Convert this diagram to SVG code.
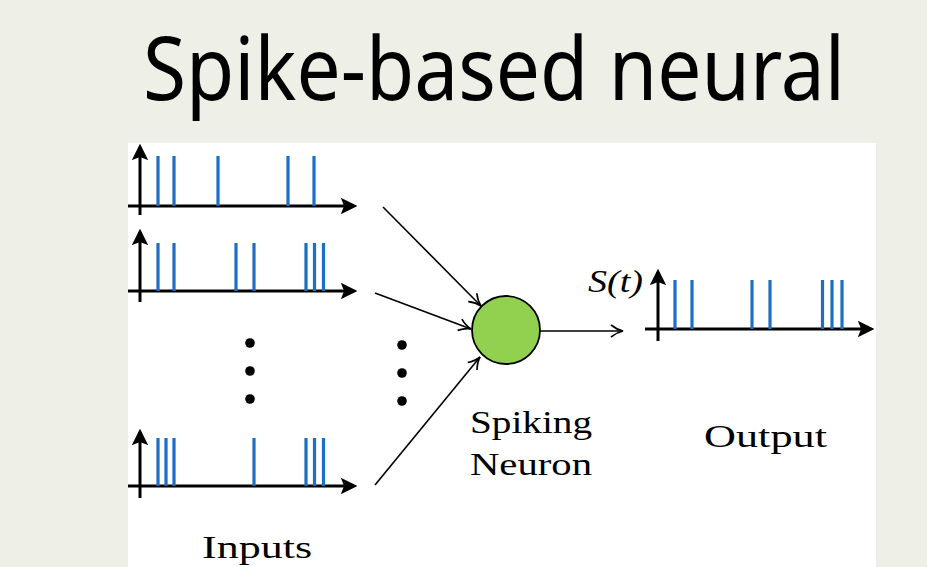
<svg xmlns="http://www.w3.org/2000/svg" width="927" height="567" viewBox="0 0 927 567">
<style>
.axis{stroke:#000;stroke-width:3;fill:none}
.spk{stroke:#1a6fc7;stroke-width:3.2}
.conn{stroke:#000;stroke-width:1.6;fill:none}
.lbl{font-family:"Liberation Serif","DejaVu Serif",serif;font-size:31px;fill:#000}
</style>
<defs>
<marker id="ah" viewBox="0 0 10 10" refX="8" refY="5" markerWidth="5.5" markerHeight="5.5" orient="auto" markerUnits="strokeWidth">
<path d="M0,0 L10,5 L0,10 L2,5 Z" fill="#000"/>
</marker>
<marker id="oa" viewBox="0 0 12 12" refX="11" refY="6" markerWidth="9" markerHeight="9" orient="auto" markerUnits="strokeWidth">
<path d="M1,1 Q6,5 11,6 Q6,7 1,11" fill="none" stroke="#000" stroke-width="1.4"/>
</marker>
</defs>
<rect width="927" height="567" fill="#eef0e8"/>
<rect x="128" y="143" width="748" height="424" fill="#fff"/>
<text x="143" y="100" font-family="'Noto Sans','Open Sans',sans-serif" font-size="88" textLength="702" lengthAdjust="spacingAndGlyphs" fill="#000">Spike-based neural</text>

<g id="input1">
<line class="axis" x1="140" y1="215" x2="140" y2="147" marker-end="url(#ah)"/>
<line class="axis" x1="128" y1="206" x2="354" y2="206" marker-end="url(#ah)"/>
<g class="spk"><line x1="158" y1="156" x2="158" y2="206"/><line x1="174" y1="156" x2="174" y2="206"/><line x1="218" y1="156" x2="218" y2="206"/><line x1="288" y1="156" x2="288" y2="206"/><line x1="314" y1="156" x2="314" y2="206"/></g>
</g>
<g id="input2">
<line class="axis" x1="140" y1="302" x2="140" y2="232" marker-end="url(#ah)"/>
<line class="axis" x1="128" y1="291" x2="354" y2="291" marker-end="url(#ah)"/>
<g class="spk"><line x1="158" y1="243" x2="158" y2="291"/><line x1="174" y1="243" x2="174" y2="291"/><line x1="236" y1="243" x2="236" y2="291"/><line x1="254" y1="243" x2="254" y2="291"/><line x1="306" y1="243" x2="306" y2="291"/><line x1="314.5" y1="243" x2="314.5" y2="291"/><line x1="323.5" y1="243" x2="323.5" y2="291"/></g>
</g>
<g id="dots-left" fill="#000"><circle cx="250" cy="343" r="4.8"/><circle cx="250" cy="371" r="4.8"/><circle cx="250" cy="399" r="4.8"/></g>
<g id="input3">
<line class="axis" x1="140" y1="498" x2="140" y2="432" marker-end="url(#ah)"/>
<line class="axis" x1="128" y1="486" x2="354" y2="486" marker-end="url(#ah)"/>
<g class="spk"><line x1="158" y1="438" x2="158" y2="486"/><line x1="166" y1="438" x2="166" y2="486"/><line x1="174" y1="438" x2="174" y2="486"/><line x1="254" y1="438" x2="254" y2="486"/><line x1="306" y1="438" x2="306" y2="486"/><line x1="314.5" y1="438" x2="314.5" y2="486"/><line x1="323.5" y1="438" x2="323.5" y2="486"/></g>
</g>
<text class="lbl" x="202" y="558" textLength="110" lengthAdjust="spacingAndGlyphs">Inputs</text>

<g id="connectors">
<line class="conn" x1="383" y1="207" x2="481" y2="306" marker-end="url(#oa)"/>
<line class="conn" x1="375" y1="293" x2="471" y2="329" marker-end="url(#oa)"/>
<line class="conn" x1="375" y1="485" x2="480" y2="357" marker-end="url(#oa)"/>
<line class="conn" x1="540" y1="331" x2="623" y2="331" marker-end="url(#oa)"/>
</g>
<g id="dots-right" fill="#000"><circle cx="402" cy="345" r="4.8"/><circle cx="402" cy="373" r="4.8"/><circle cx="402" cy="401" r="4.8"/></g>
<g id="neuron">
<circle cx="506" cy="330" r="34" fill="#92d050" stroke="#000" stroke-width="1.8"/>
<text class="lbl" x="470" y="433" textLength="122" lengthAdjust="spacingAndGlyphs">Spiking</text>
<text class="lbl" x="470" y="475" textLength="122" lengthAdjust="spacingAndGlyphs">Neuron</text>
</g>
<g id="output">
<text class="lbl" x="588" y="292" font-style="italic" font-size="30" textLength="55" lengthAdjust="spacingAndGlyphs">S(t)</text>
<line class="axis" x1="658" y1="341" x2="658" y2="272" marker-end="url(#ah)"/>
<line class="axis" x1="645" y1="329" x2="871" y2="329" marker-end="url(#ah)"/>
<g class="spk"><line x1="675" y1="280" x2="675" y2="329"/><line x1="692" y1="280" x2="692" y2="329"/><line x1="752" y1="280" x2="752" y2="329"/><line x1="770" y1="280" x2="770" y2="329"/><line x1="822.5" y1="280" x2="822.5" y2="329"/><line x1="832" y1="280" x2="832" y2="329"/><line x1="842" y1="280" x2="842" y2="329"/></g>
<text class="lbl" x="704" y="447" textLength="123" lengthAdjust="spacingAndGlyphs">Output</text>
</g>
</svg>
